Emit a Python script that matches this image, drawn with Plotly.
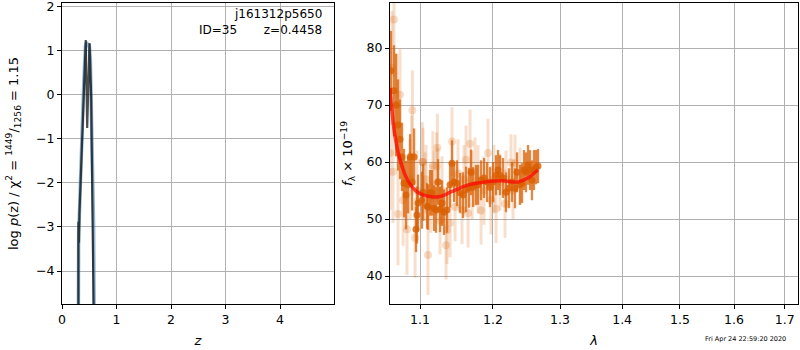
import plotly.graph_objects as go

# ---- left panel: p(z) ----
pz_z_smooth = [0.295, 0.305, 0.33, 0.36, 0.40, 0.43, 0.45, 0.48, 0.50, 0.52, 0.55, 0.58, 0.600]
pz_logp_smooth = [-7.0, -3.2, -2.3, -1.0, 0.3, 1.1, 1.2, 1.1, 1.15, 0.8, -0.8, -3.0, -7.0]
pz_z_raw = [0.300, 0.301, 0.312, 0.320, 0.436, 0.462, 0.505, 0.535, 0.600]
pz_logp_raw = [-7.0, -2.88, -3.36, -2.7, 1.25, -0.75, 1.18, -0.04, -7.0]

# ---- right panel: spectrum ----
dark_lam = [1.0625, 1.0663, 1.0690, 1.0715, 1.0740, 1.0766, 1.0792, 1.0817, 1.0844, 1.0870,
            1.0896, 1.0922, 1.0947, 1.0960, 1.0974, 1.1026, 1.1040, 1.1092, 1.1105, 1.1132,
            1.1158, 1.1185, 1.1212, 1.1239, 1.1266, 1.1293, 1.1319, 1.1360, 1.1401, 1.1428,
            1.1456, 1.1496, 1.1538, 1.1579, 1.1621, 1.1663, 1.1691, 1.1720, 1.1760, 1.1788,
            1.1831, 1.1873, 1.1916, 1.1958, 1.2001, 1.2044, 1.2073, 1.2102, 1.2145, 1.2188,
            1.2232, 1.2276, 1.2320, 1.2350, 1.2394, 1.2424, 1.2453, 1.2483, 1.2513, 1.2543,
            1.2572, 1.2602, 1.2633, 1.2663]
dark_flux = [76.0, 72.5, 70.0, 66.5, 64.0, 60.9, 56.3, 54.2, 56.0, 60.9,
             56.5, 60.9, 48.2, 50.7, 52.8, 53.3, 54.7, 52.3, 52.1, 54.6,
             54.6, 51.9, 51.6, 56.5, 51.7, 52.8, 51.2, 51.6, 56.0, 59.8,
             56.5, 56.3, 54.6, 54.2, 55.2, 55.5, 58.2, 55.6, 56.0, 56.0,
             56.8, 57.2, 56.5, 55.6, 56.5, 57.7, 58.6, 57.7, 57.2, 54.7,
             55.4, 56.5, 55.4, 58.2, 56.0, 56.3, 58.6, 58.2, 59.5, 58.6,
             56.8, 58.6, 59.1, 59.3]
dark_err = [7, 8, 9, 8, 7, 6, 6, 6, 5, 4,
            5, 5, 4, 5, 5, 5, 5, 4, 4, 4,
            4, 4, 4, 4, 4, 4, 4, 4, 4, 4,
            3.5, 4, 3.5, 4, 4, 3.5, 4, 3.5, 3.5, 3.5,
            3.5, 3.5, 3.5, 3.5, 3.5, 3.5, 3.5, 3.5, 3.5, 3.5,
            3.5, 3.5, 3.5, 3.5, 3.5, 3.5, 3.5, 3.5, 3.5, 3.5,
            3.5, 3.5, 3, 3]

light_lam = [1.0613, 1.0638, 1.0650, 1.0663, 1.0700, 1.0715, 1.0740, 1.0780, 1.0830, 1.0870,
             1.0890, 1.0900, 1.0935, 1.0960, 1.1030, 1.1040, 1.1066, 1.1079, 1.1105, 1.1140,
             1.1170, 1.1185, 1.1220, 1.1230, 1.1239, 1.1266, 1.1293, 1.1346, 1.1360, 1.1401,
             1.1428, 1.1470, 1.1510, 1.1565, 1.1593, 1.1621, 1.1649, 1.1677, 1.1705, 1.1746,
             1.1788, 1.1831, 1.1873, 1.1929, 1.1972, 1.2015, 1.2044, 1.2102, 1.2174, 1.2188,
             1.2262, 1.2290, 1.2320, 1.2394]
light_flux = [61.6, 76.5, 58.3, 85.0, 70.0, 50.9, 71.8, 53.3, 48.2, 57.0,
              61.2, 69.1, 46.7, 55.0, 60.0, 60.0, 55.7, 57.0, 43.7, 53.6,
              59.4, 56.0, 59.2, 62.5, 56.5, 49.8, 55.0, 45.4, 48.1, 49.3,
              63.6, 52.1, 58.0, 51.6, 57.0, 60.4, 51.0, 63.2, 56.0, 58.3,
              57.0, 51.5, 55.0, 61.6, 53.3, 57.0, 51.8, 56.5, 52.7, 57.0,
              59.9, 55.0, 59.8, 57.5]
light_err = [10, 10, 9, 10, 9, 9, 8, 8, 8, 7,
             7, 7, 7, 7, 7, 6, 6, 6, 7, 6,
             6, 6, 6, 6, 6, 6, 6, 6, 6, 6,
             6, 6, 6, 6, 6, 6, 6, 6, 6, 6,
             6, 6, 6, 6, 6, 6, 6, 5, 6, 5,
             5, 5, 5, 5]

model_lam = [1.0613, 1.062, 1.067, 1.074, 1.084, 1.097, 1.114, 1.128, 1.142, 1.165,
             1.189, 1.213, 1.236, 1.251, 1.266]
model_flux = [73.0, 71.5, 65.1, 60.4, 56.8, 54.7, 53.9, 54.0, 54.8, 56.0,
              56.5, 56.7, 56.5, 57.2, 58.6]

lam_ticks = [1.1, 1.2, 1.3, 1.4, 1.5, 1.6, 1.7]
obj_name = "j161312p5650"
obj_id = 35
obj_z = 0.4458
timestamp = "Fri Apr 24 22:59:20 2020"

FONT = "DejaVu Sans"
ORANGE = "217,95,2"

fig = go.Figure()

fig.add_trace(go.Scatter(x=pz_z_smooth, y=pz_logp_smooth, mode="lines",
                         line=dict(color="rgba(70,130,180,0.6)", width=3.5),
                         xaxis="x", yaxis="y", showlegend=False, hoverinfo="skip"))
fig.add_trace(go.Scatter(x=pz_z_raw, y=pz_logp_raw, mode="lines",
                         line=dict(color="rgba(0,0,0,0.7)", width=2.2),
                         xaxis="x", yaxis="y", showlegend=False, hoverinfo="skip"))

fig.add_trace(go.Scatter(x=light_lam, y=light_flux, mode="markers",
                         marker=dict(color=f"rgba({ORANGE},0.22)", size=8, line=dict(width=0)),
                         error_y=dict(type="data", array=light_err, thickness=3, width=0,
                                      color=f"rgba({ORANGE},0.2)"),
                         xaxis="x2", yaxis="y2", showlegend=False))
fig.add_trace(go.Scatter(x=dark_lam, y=dark_flux, mode="markers",
                         marker=dict(color=f"rgba({ORANGE},0.8)", size=7, line=dict(width=0)),
                         error_y=dict(type="data", array=dark_err, thickness=2.3, width=0,
                                      color=f"rgba({ORANGE},0.75)"),
                         xaxis="x2", yaxis="y2", showlegend=False))
fig.add_trace(go.Scatter(x=model_lam, y=model_flux, mode="lines",
                         line=dict(color="rgba(255,0,0,0.7)", width=3.5, shape="spline"),
                         xaxis="x2", yaxis="y2", showlegend=False))

ax_common = dict(showline=True, linecolor="black", linewidth=1.2, mirror=True,
                 ticks="outside", ticklen=4, tickcolor="black", tickwidth=1,
                 showgrid=True, gridcolor="#b0b0b0", gridwidth=1, zeroline=False,
                 automargin=False, ticklabeloverflow="allow",
                 tickfont=dict(family=FONT, size=12.5, color="black"))

fig.update_layout(
    width=800, height=350,
    margin=dict(l=62, r=2, t=3, b=46),
    paper_bgcolor="white", plot_bgcolor="white",
    font=dict(family=FONT, color="black"),
    xaxis=dict(domain=[0, 0.3696], range=[0, 4.99], tickvals=[0, 1, 2, 3, 4],
               title=dict(text="<i>z</i>", font=dict(size=13), standoff=9), anchor="y", **ax_common),
    yaxis=dict(domain=[0, 1], range=[-4.75, 2.09], tickvals=[-4, -3, -2, -1, 0, 1, 2],
               tickformat="d",
               title=dict(text="log <i>p</i>(z) / χ<sup>2</sup> = <sup>1449</sup>/<sub>1256</sub> = 1.15",
                          font=dict(size=13), standoff=14), anchor="x", **ax_common),
    xaxis2=dict(domain=[0.4457, 1], type="log",
                range=[0.02584, 0.23729], tickvals=lam_ticks, ticktext=[str(t) for t in lam_ticks],
                title=dict(text="<i>λ</i>", font=dict(size=13), standoff=9), anchor="y2", **ax_common),
    yaxis2=dict(domain=[0, 1], range=[35.1, 87.9], tickvals=[40, 50, 60, 70, 80],
                title=dict(text="<i>f</i><sub>λ</sub> × 10<sup>−19</sup>",
                           font=dict(size=13), standoff=10), anchor="x2", **ax_common),
    annotations=[
        dict(text=obj_name, xref="x", yref="paper", x=4.8, y=0.995, xanchor="right",
             yanchor="top", showarrow=False, font=dict(family=FONT, size=12)),
        dict(text=f"ID={obj_id}       z={obj_z:.4f}", xref="x", yref="paper", x=4.8, y=0.94,
             xanchor="right", yanchor="top", showarrow=False, font=dict(family=FONT, size=12)),
        dict(text=timestamp, xref="paper", yref="paper", x=0.986, y=-0.116, xanchor="right",
             yanchor="middle", showarrow=False, font=dict(family=FONT, size=6.5)),
    ],
)

fig.write_html("out.html", config={"displayModeBar": False},
               post_script="document.body.style.margin='0';")
